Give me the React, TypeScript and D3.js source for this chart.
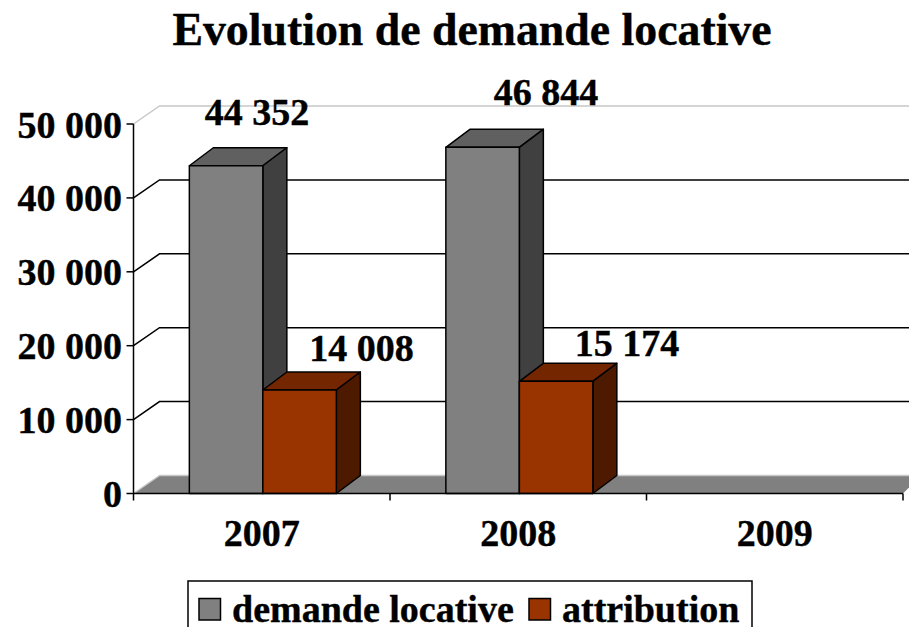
import React from "react";
import * as d3 from "d3";

const categories = ["2007", "2008", "2009"];
const seriesNames = ["demande locative", "attribution"];
const demande = [44352, 46844, null];
const attribution = [14008, 15174, null];
const yTicks = [0, 10000, 20000, 30000, 40000, 50000];

const frontColors = ["#808080", "#993300"];
const topColors = ["#606060", "#732600"];
const sideColors = ["#404040", "#4d1a00"];

const width = 909;
const height = 627;
const margin = { left: 133.5, right: 903, top: 124, bottom: 493.5 };
const depth = { x: 26, y: 18 };
const barDepth = { x: 24, y: 18 };
const font = "'Liberation Serif', serif";
const labelSize = 38;
// the original's text is a little heavier than plain bold
const heavy = { stroke: "#000", strokeWidth: 0.4 };

const fmt = (d: number) => d3.format(",")(d).replace(/,/g, " ");

const x = d3.scaleBand().domain(categories).range([margin.left, margin.right]);
const x1 = d3.scaleBand().domain(seriesNames).range([0, x.bandwidth()]).paddingInner(0).paddingOuter(0.745).align(0.51);
const y = d3.scaleLinear().domain([0, 50000]).range([margin.bottom, margin.top]);

// label nudges from the bar's top centre
const labelNudge = [
  [[31, -41], [62, -29]],
  [[63.5, -42], [71, -25]],
];

export default function App() {
  const rows = [demande, attribution];
  return (
    <svg width={width} height={height} style={{ position: "absolute", left: 0, top: 0 }} fontFamily={font} fontWeight="bold">
      <text x={472} y={45} textAnchor="middle" fontSize={45.8} {...heavy}>Evolution de demande locative</text>

      {/* floor */}
      <path
        d={`M${margin.left},${margin.bottom}L${margin.left + depth.x},${margin.bottom - depth.y}H${width}V${margin.bottom - 6}L${margin.right},${margin.bottom}Z`}
        fill="#808080"
      />
      <line x1={margin.left + depth.x} x2={width} y1={margin.bottom - depth.y} y2={margin.bottom - depth.y} stroke="#c8c8c8" strokeWidth={1.5} />
      <line x1={margin.left} x2={margin.left + depth.x} y1={margin.bottom} y2={margin.bottom - depth.y} stroke="#c8c8c8" strokeWidth={1.5} />

      {/* grid */}
      {yTicks.slice(1).map((t) => {
        const top = t === 50000;
        const stroke = top ? "#c8c8c8" : "#000";
        return (
          <g key={t} stroke={stroke} strokeWidth={1.5} fill="none">
            <path d={`M${margin.left},${y(t)}L${margin.left + depth.x},${y(t) - depth.y}H${width}`} />
          </g>
        );
      })}

      {/* bars */}
      {categories.map((c, i) =>
        seriesNames.map((s, j) => {
          const v = rows[j][i];
          if (v == null) return null;
          const bx = x(c)! + x1(s)!;
          const bw = x1.bandwidth();
          const by = y(v);
          const b0 = y(0);
          const dx = barDepth.x;
          const dy = barDepth.y;
          return (
            <g key={s + c} stroke="#000" strokeWidth={1.5} strokeLinejoin="round">
              <path d={`M${bx},${by}l${dx},${-dy}h${bw}l${-dx},${dy}Z`} fill={topColors[j]} />
              <path d={`M${bx + bw},${by}l${dx},${-dy}V${b0 - dy}l${-dx},${dy}Z`} fill={sideColors[j]} />
              <rect x={bx} y={by} width={bw} height={b0 - by} fill={frontColors[j]} />
            </g>
          );
        })
      )}

      {/* axes */}
      <g stroke="#000" strokeWidth={1.5}>
        <line x1={margin.left} x2={margin.left} y1={margin.top} y2={margin.bottom + 7} />
        <line x1={margin.left} x2={margin.right} y1={margin.bottom} y2={margin.bottom} />
        {yTicks.map((t) => (
          <line key={t} x1={margin.left - 7} x2={margin.left} y1={y(t)} y2={y(t)} />
        ))}
        {categories.map((c) => (
          <line key={c} x1={x(c)! + x.bandwidth()} x2={x(c)! + x.bandwidth()} y1={margin.bottom} y2={margin.bottom + 7} />
        ))}
      </g>

      {yTicks.map((t) => (
        <text key={t} x={122} y={y(t) + 13.5} textAnchor="end" fontSize={labelSize} {...heavy}>{fmt(t)}</text>
      ))}
      {categories.map((c) => (
        <text key={c} x={x(c)! + x.bandwidth() / 2} y={545.5} textAnchor="middle" fontSize={labelSize} {...heavy}>{c}</text>
      ))}

      {/* value labels */}
      {categories.map((c, i) =>
        seriesNames.map((s, j) => {
          const v = rows[j][i];
          if (v == null) return null;
          const n = labelNudge[i][j];
          return (
            <text key={s + c} x={x(c)! + x1(s)! + x1.bandwidth() / 2 + n[0]} y={y(v) + n[1]} textAnchor="middle" fontSize={labelSize} {...heavy}>
              {fmt(v)}
            </text>
          );
        })
      )}

      {/* legend, cut off by the bottom of the picture */}
      <rect x={188} y={581} width={564} height={60} fill="#fff" stroke="#000" strokeWidth={1.5} />
      {seriesNames.map((s, j) => {
        const lx = [199, 529][j];
        return (
          <g key={s}>
            <rect x={lx} y={598.5} width={21.5} height={21.5} fill={frontColors[j]} stroke="#000" strokeWidth={1.5} />
            <text x={lx + 33} y={621.5} fontSize={labelSize} {...heavy}>{s}</text>
          </g>
        );
      })}
    </svg>
  );
}
